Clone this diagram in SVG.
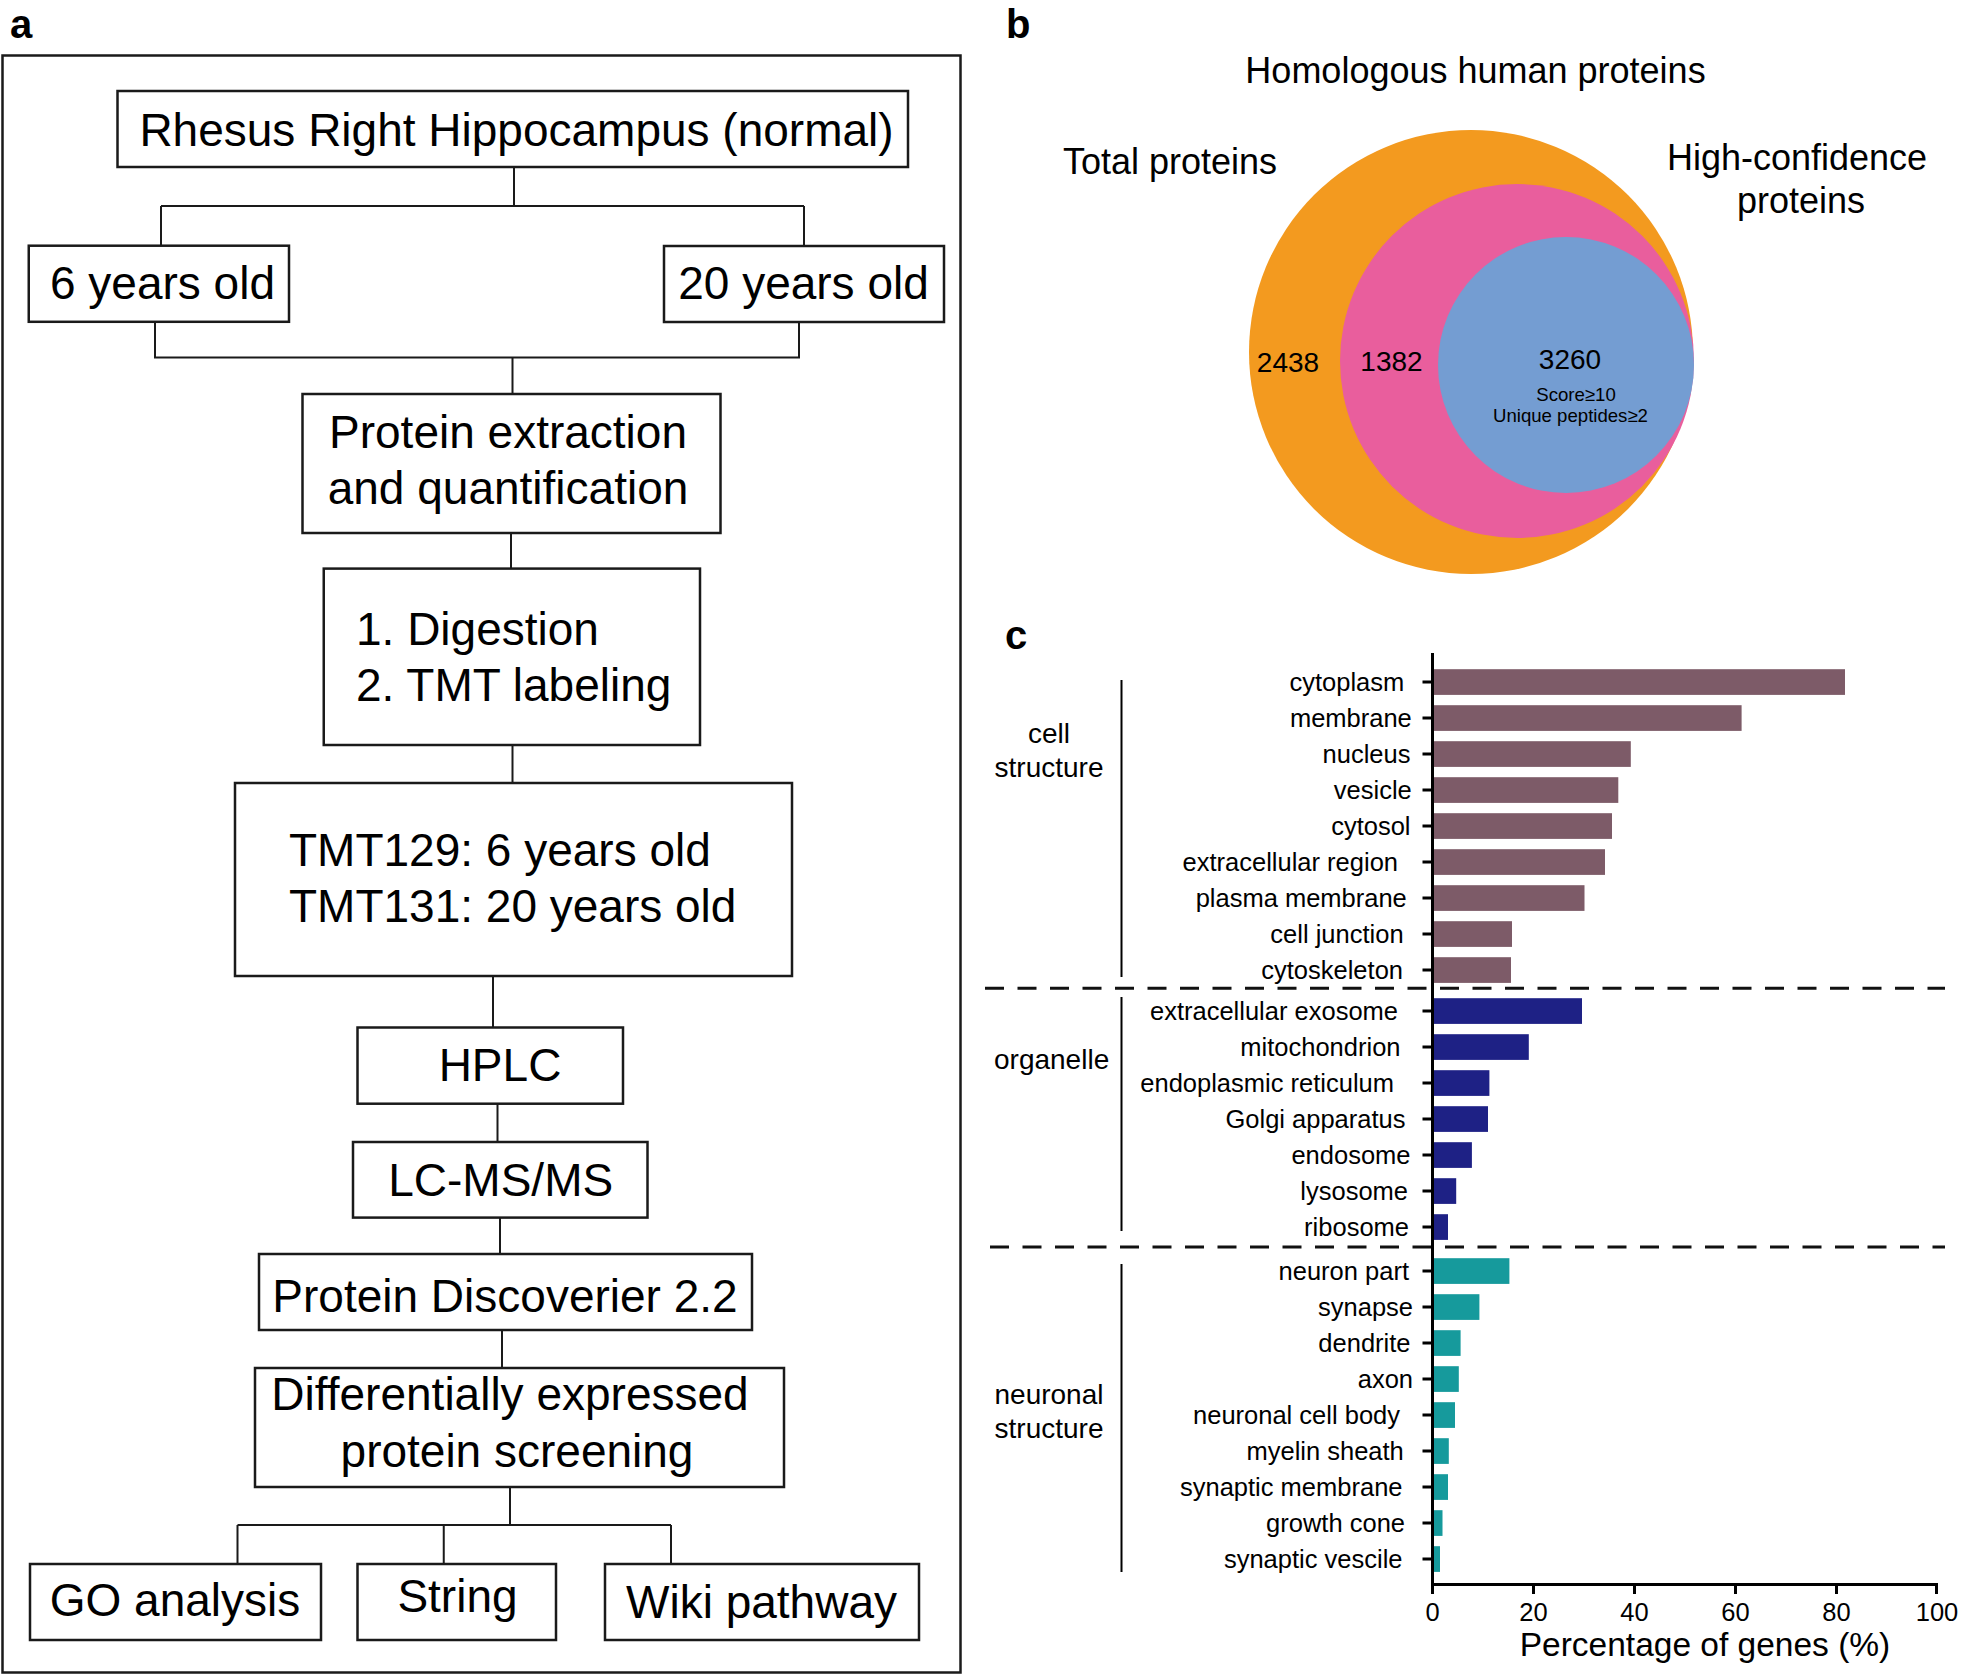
<svg xmlns="http://www.w3.org/2000/svg" width="1961" height="1676" viewBox="0 0 1961 1676">
<style>
text{font-family:"Liberation Sans",Arial,Helvetica,sans-serif;fill:#000}
.lab{font-weight:bold;font-size:40px}
.ta{font-size:46px}
.m{text-anchor:middle}
.box{fill:#fff;stroke:#1a1a1a;stroke-width:2.5}
.con{fill:none;stroke:#1a1a1a;stroke-width:2}
.vb{font-size:36px;text-anchor:middle}
.num{font-size:28px;text-anchor:middle}
.sm{font-size:18.6px;text-anchor:middle}
.cl{font-size:25.5px;text-anchor:end}
.tk{font-size:25.5px;text-anchor:middle}
.grp{font-size:28px}
.ax{fill:none;stroke:#000;stroke-width:3}
.br{fill:none;stroke:#000;stroke-width:2}
.dash{fill:none;stroke:#111;stroke-width:3;stroke-dasharray:19 13.5}
.b1{fill:#7D5B68}
.b2{fill:#1E2185}
.b3{fill:#169A9C}
</style>

<!-- Panel labels -->
<text class="lab" x="10" y="38">a</text>
<text class="lab" x="1006" y="38">b</text>
<text class="lab" x="1005" y="649">c</text>

<!-- Panel a -->
<rect id="frame-a" x="2.5" y="55.5" width="958" height="1617" fill="none" stroke="#1a1a1a" stroke-width="2.5"/>

<g id="connectors">
<path class="con" d="M514 167V206M161 206H804M161 206V246M804 206V246"/>
<path class="con" d="M155 322V357.5H799V322M512.5 357.5V394"/>
<path class="con" d="M511 533V568.6"/>
<path class="con" d="M512.5 745V783"/>
<path class="con" d="M493 976V1027.5"/>
<path class="con" d="M497.5 1104V1142"/>
<path class="con" d="M500 1218V1254"/>
<path class="con" d="M502 1330V1368"/>
<path class="con" d="M510 1487V1525M237.5 1525H671M237.5 1525V1564M443.75 1525V1564M671 1525V1564"/>
</g>

<g id="n-rhesus"><rect class="box" x="117.5" y="91" width="790.5" height="76"/><text class="ta m" x="516.5" y="146">Rhesus Right Hippocampus (normal)</text></g>
<g id="n-6yo"><rect class="box" x="28.75" y="245.7" width="260.25" height="76.1"/><text class="ta m" x="162.5" y="299">6 years old</text></g>
<g id="n-20yo"><rect class="box" x="664" y="246" width="280" height="76"/><text class="ta m" x="803.5" y="299">20 years old</text></g>
<g id="n-extract"><rect class="box" x="302.5" y="394" width="418" height="139"/><text class="ta m" x="508" y="447.5">Protein extraction</text><text class="ta m" x="508" y="503.6">and quantification</text></g>
<g id="n-digest"><rect class="box" x="323.75" y="568.6" width="376.25" height="176.4"/><text class="ta" x="356" y="645">1. Digestion</text><text class="ta" x="356" y="700.7">2. TMT labeling</text></g>
<g id="n-tmt"><rect class="box" x="235" y="783" width="557" height="193"/><text class="ta" x="289" y="866">TMT129: 6 years old</text><text class="ta" x="289" y="922">TMT131: 20 years old</text></g>
<g id="n-hplc"><rect class="box" x="357.5" y="1027.5" width="265.5" height="76.2"/><text class="ta m" x="500" y="1081">HPLC</text></g>
<g id="n-lcms"><rect class="box" x="353" y="1142" width="294.5" height="75.6"/><text class="ta m" x="500.7" y="1196">LC-MS/MS</text></g>
<g id="n-pd"><rect class="box" x="259" y="1254" width="493" height="76"/><text class="ta m" x="505" y="1312">Protein Discoverier 2.2</text></g>
<g id="n-diff"><rect class="box" x="255" y="1368" width="529" height="119"/><text class="ta m" x="510" y="1410">Differentially expressed</text><text class="ta m" x="517" y="1467">protein screening</text></g>
<g id="n-go"><rect class="box" x="30" y="1564" width="291" height="76"/><text class="ta m" x="175" y="1616">GO analysis</text></g>
<g id="n-string"><rect class="box" x="357.5" y="1564" width="198.5" height="76"/><text class="ta m" x="457.5" y="1612">String</text></g>
<g id="n-wiki"><rect class="box" x="605" y="1564" width="314" height="76"/><text class="ta m" x="761.5" y="1618">Wiki pathway</text></g>

<!-- Panel b -->
<g id="venn">
<circle cx="1471" cy="352" r="222" fill="#F39A1F"/>
<circle cx="1517" cy="361" r="177" fill="#E95E9D"/>
<circle cx="1566" cy="365" r="128" fill="#749DD2"/>
<text class="vb" x="1475.5" y="83">Homologous human proteins</text>
<text class="vb" x="1170" y="174">Total proteins</text>
<text class="vb" x="1797" y="170">High-confidence</text>
<text class="vb" x="1801" y="213">proteins</text>
<text class="num" x="1288" y="372">2438</text>
<text class="num" x="1391.5" y="371">1382</text>
<text class="num" x="1570" y="369">3260</text>
<text class="sm" x="1576" y="401">Score≥10</text>
<text class="sm" x="1570.5" y="422">Unique peptides≥2</text>
</g>

<!-- Panel c -->
<g id="chart">
<path class="dash" d="M985 988.3H1945"/>
<path class="dash" d="M990 1247H1945"/>
<path class="br" d="M1121.5 680V977M1121.5 997V1231M1121.5 1264V1572"/>
<text class="grp m" x="1049" y="743">cell</text>
<text class="grp m" x="1049" y="776.5">structure</text>
<text class="grp" x="994" y="1069">organelle</text>
<text class="grp m" x="1049" y="1404">neuronal</text>
<text class="grp m" x="1049" y="1438">structure</text>

<g id="bars-cell">
<rect class="b1" x="1432" y="669.2" width="413" height="25.7"/>
<rect class="b1" x="1432" y="705.2" width="309.6" height="25.7"/>
<rect class="b1" x="1432" y="741.2" width="198.8" height="25.7"/>
<rect class="b1" x="1432" y="777.2" width="186.3" height="25.7"/>
<rect class="b1" x="1432" y="813.2" width="180" height="25.7"/>
<rect class="b1" x="1432" y="849.2" width="173" height="25.7"/>
<rect class="b1" x="1432" y="885.2" width="152.5" height="25.7"/>
<rect class="b1" x="1432" y="921.2" width="80" height="25.7"/>
<rect class="b1" x="1432" y="957.2" width="79" height="25.7"/>
</g>
<g id="bars-organelle">
<rect class="b2" x="1432" y="998.2" width="150" height="25.7"/>
<rect class="b2" x="1432" y="1034.2" width="96.8" height="25.7"/>
<rect class="b2" x="1432" y="1070.2" width="57.4" height="25.7"/>
<rect class="b2" x="1432" y="1106.2" width="56" height="25.7"/>
<rect class="b2" x="1432" y="1142.2" width="39.9" height="25.7"/>
<rect class="b2" x="1432" y="1178.2" width="24.2" height="25.7"/>
<rect class="b2" x="1432" y="1214.2" width="16" height="25.7"/>
</g>
<g id="bars-neuronal">
<rect class="b3" x="1432" y="1258.2" width="77.4" height="25.7"/>
<rect class="b3" x="1432" y="1294.2" width="47.4" height="25.7"/>
<rect class="b3" x="1432" y="1330.2" width="28.6" height="25.7"/>
<rect class="b3" x="1432" y="1366.2" width="26.8" height="25.7"/>
<rect class="b3" x="1432" y="1402.2" width="23" height="25.7"/>
<rect class="b3" x="1432" y="1438.2" width="16.8" height="25.7"/>
<rect class="b3" x="1432" y="1474.2" width="16" height="25.7"/>
<rect class="b3" x="1432" y="1510.2" width="10.5" height="25.7"/>
<rect class="b3" x="1432" y="1546.2" width="8" height="25.7"/>
</g>

<path class="ax" d="M1432.5 653V1586M1431 1584.5H1938"/>
<path class="ax" d="M1422.5 682H1432M1422.5 718H1432M1422.5 754H1432M1422.5 790H1432M1422.5 826H1432M1422.5 862H1432M1422.5 898H1432M1422.5 934H1432M1422.5 970H1432M1422.5 1011H1432M1422.5 1047H1432M1422.5 1083H1432M1422.5 1119H1432M1422.5 1155H1432M1422.5 1191H1432M1422.5 1227H1432M1422.5 1271H1432M1422.5 1307H1432M1422.5 1343H1432M1422.5 1379H1432M1422.5 1415H1432M1422.5 1451H1432M1422.5 1487H1432M1422.5 1523H1432M1422.5 1559H1432"/>
<path class="ax" d="M1432.5 1584V1594M1533.5 1584V1594M1634.5 1584V1594M1735.5 1584V1594M1836.5 1584V1594M1936.5 1584V1594"/>

<text class="cl" x="1404.3" y="690.5">cytoplasm</text>
<text class="cl" x="1411.8" y="726.5">membrane</text>
<text class="cl" x="1410.5" y="762.5">nucleus</text>
<text class="cl" x="1411.8" y="798.5">vesicle</text>
<text class="cl" x="1410.5" y="834.5">cytosol</text>
<text class="cl" x="1398" y="870.5">extracellular region</text>
<text class="cl" x="1406.8" y="906.5">plasma membrane</text>
<text class="cl" x="1403.6" y="942.5">cell junction</text>
<text class="cl" x="1403" y="978.5">cytoskeleton</text>
<text class="cl" x="1398" y="1019.5">extracellular exosome</text>
<text class="cl" x="1400.5" y="1055.5">mitochondrion</text>
<text class="cl" x="1394" y="1091.5">endoplasmic reticulum</text>
<text class="cl" x="1405.5" y="1127.5">Golgi apparatus</text>
<text class="cl" x="1410.5" y="1163.5">endosome</text>
<text class="cl" x="1408" y="1199.5">lysosome</text>
<text class="cl" x="1409" y="1235.5">ribosome</text>
<text class="cl" x="1409" y="1279.5">neuron part</text>
<text class="cl" x="1413" y="1315.5">synapse</text>
<text class="cl" x="1410.5" y="1351.5">dendrite</text>
<text class="cl" x="1413" y="1387.5">axon</text>
<text class="cl" x="1400" y="1423.5">neuronal cell body</text>
<text class="cl" x="1403.8" y="1459.5">myelin sheath</text>
<text class="cl" x="1402.5" y="1495.5">synaptic membrane</text>
<text class="cl" x="1405" y="1531.5">growth cone</text>
<text class="cl" x="1402.5" y="1567.5">synaptic vescile</text>

<text class="tk" x="1432.5" y="1621">0</text>
<text class="tk" x="1533.5" y="1621">20</text>
<text class="tk" x="1634.5" y="1621">40</text>
<text class="tk" x="1735.5" y="1621">60</text>
<text class="tk" x="1836.5" y="1621">80</text>
<text class="tk" x="1937" y="1621">100</text>
<text style="font-size:33.5px;text-anchor:middle" x="1705" y="1656">Percentage of genes (%)</text>
</g>
</svg>
